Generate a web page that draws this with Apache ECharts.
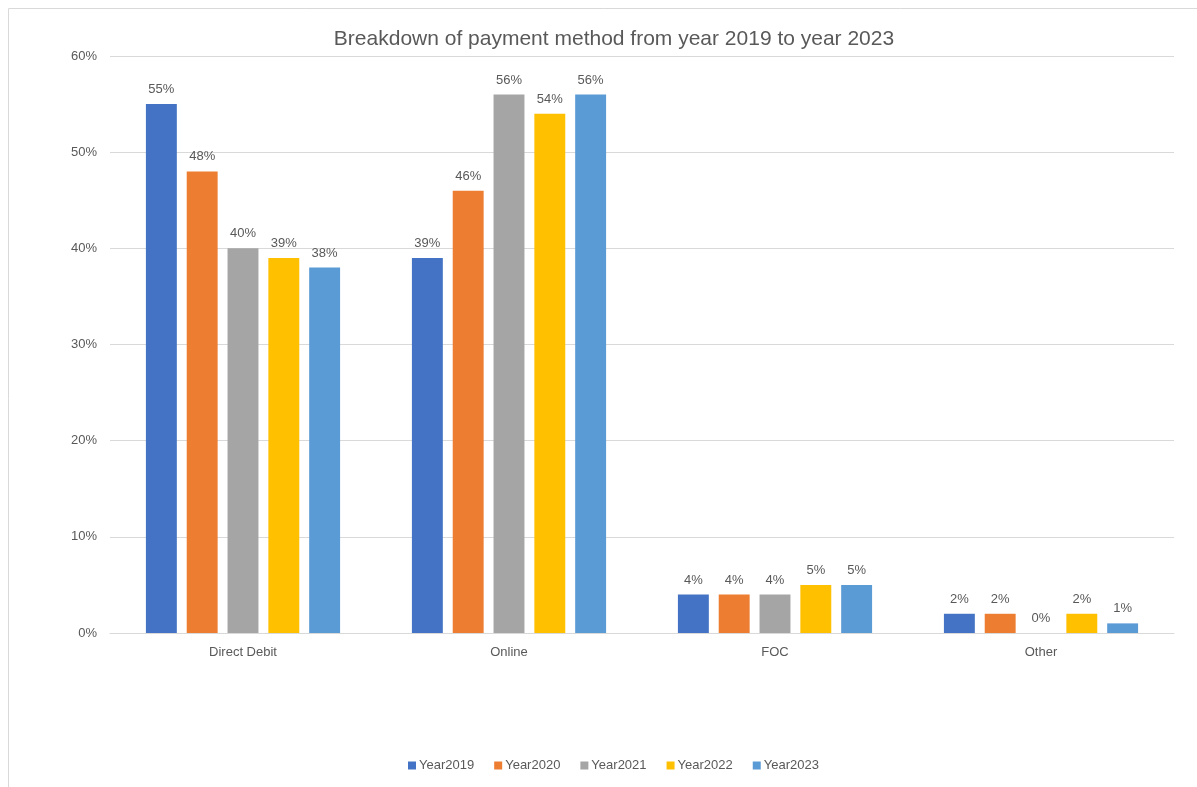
<!DOCTYPE html>
<html><head><meta charset="utf-8">
<script src="https://cdn.jsdelivr.net/npm/echarts@6/dist/echarts.min.js"></script>
<style>html,body{margin:0;padding:0;background:#fff}#c{width:1197px;height:787px}</style>
</head><body><div id="c"></div>
<script>
const categories = ['Direct Debit', 'Online', 'FOC', 'Other'];
const seriesNames = ['Year2019', 'Year2020', 'Year2021', 'Year2022', 'Year2023'];
const year2019 = [55, 39, 4, 2];
const year2020 = [48, 46, 4, 2];
const year2021 = [40, 56, 4, 0];
const year2022 = [39, 54, 5, 2];
const year2023 = [38, 56, 5, 1];
const colors = ['#4472C4', '#ED7D31', '#A5A5A5', '#FFC000', '#5B9BD5'];
const allData = [year2019, year2020, year2021, year2022, year2023];
const font = "'Liberation Sans', 'Noto Sans', sans-serif";

const chart = echarts.init(document.getElementById('c'));
chart.setOption({
  animation: false,
  color: colors,
  graphic: [{
    type: 'rect', shape: { x: 8.5, y: 8.5, width: 1210, height: 800 },
    style: { fill: 'none', stroke: '#d9d9d9', lineWidth: 1 }, silent: true, z: -1
  }],
  title: {
    text: 'Breakdown of payment method from year 2019 to year 2023',
    left: 609, top: 24, textAlign: 'center',
    textStyle: { color: '#595959', fontSize: 21, fontWeight: 'normal', fontFamily: font }
  },
  legend: {
    bottom: 15, left: 408, padding: 0, itemWidth: 8, itemHeight: 8, itemGap: 20,
    icon: 'rect',
    textStyle: { color: '#595959', fontSize: 13, fontFamily: font, padding: [0, 0, 0, -2] },
    data: seriesNames
  },
  grid: { left: 110, right: 23, top: 56, bottom: 154 },
  xAxis: {
    type: 'category', data: categories,
    axisLine: { lineStyle: { color: '#d9d9d9' } },
    axisTick: { show: false },
    axisLabel: { color: '#595959', fontSize: 13, fontFamily: font, margin: 13 }
  },
  yAxis: {
    type: 'value', min: 0, max: 60, interval: 10,
    axisLine: { show: false }, axisTick: { show: false },
    splitLine: { lineStyle: { color: '#d9d9d9' } },
    axisLabel: { color: '#595959', fontSize: 13, fontFamily: font, margin: 13, formatter: '{value}%' }
  },
  series: seriesNames.map((n, i) => ({
    name: n, type: 'bar', data: allData[i],
    barGap: '32%', barCategoryGap: '27%',
    label: { show: true, position: 'top', distance: 8, formatter: '{c}%', color: '#595959', fontSize: 13, fontFamily: font }
  }))
});
</script></body></html>
